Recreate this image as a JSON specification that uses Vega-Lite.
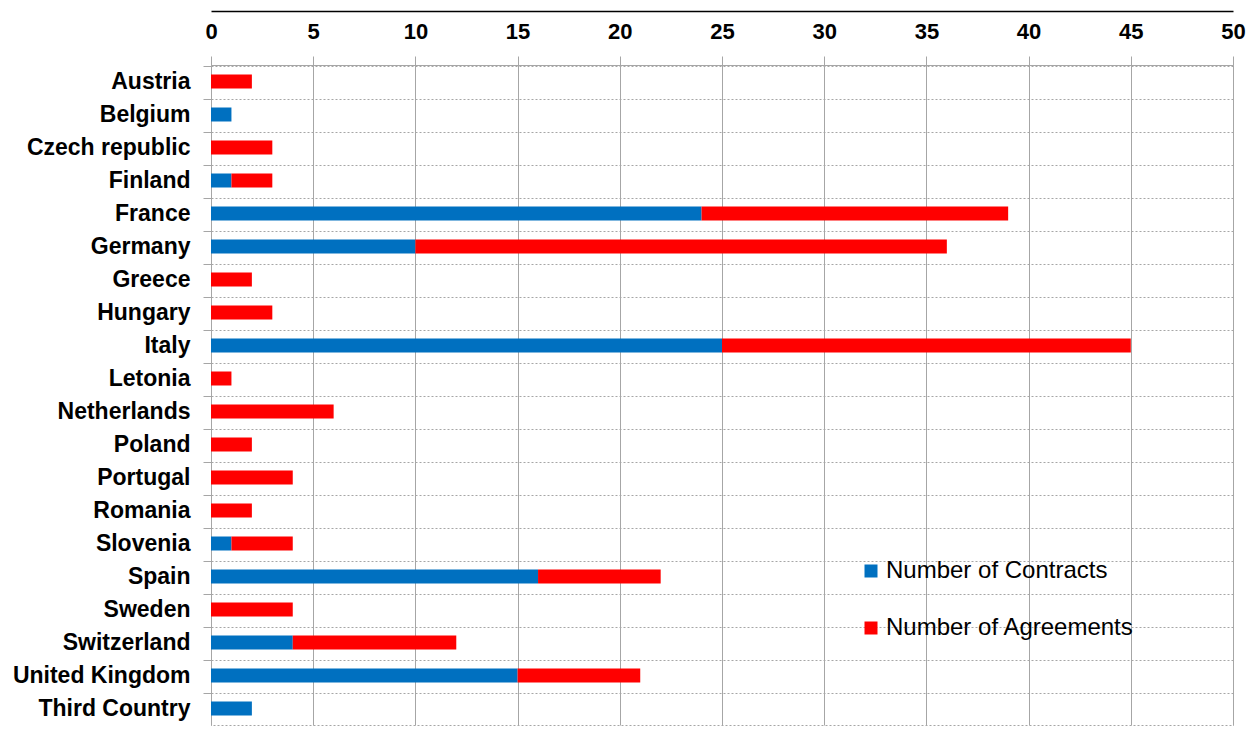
{
  "$schema": "https://vega.github.io/schema/vega-lite/v6.json",
  "autosize": "none",
  "width": 1022,
  "height": 660,
  "padding": {"left": 211, "top": 65, "right": 17, "bottom": 17},
  "background": "white",
  "config": {
    "font": "Liberation Sans",
    "view": {"stroke": "#a6a6a6", "strokeDash": [2, 2]}
  },
  "data": {
    "values": [
      {"country": "Austria", "series": "Number of Agreements", "value": 2},
      {"country": "Belgium", "series": "Number of Contracts", "value": 1},
      {"country": "Czech republic", "series": "Number of Agreements", "value": 3},
      {"country": "Finland", "series": "Number of Contracts", "value": 1},
      {"country": "Finland", "series": "Number of Agreements", "value": 2},
      {"country": "France", "series": "Number of Contracts", "value": 24},
      {"country": "France", "series": "Number of Agreements", "value": 15},
      {"country": "Germany", "series": "Number of Contracts", "value": 10},
      {"country": "Germany", "series": "Number of Agreements", "value": 26},
      {"country": "Greece", "series": "Number of Agreements", "value": 2},
      {"country": "Hungary", "series": "Number of Agreements", "value": 3},
      {"country": "Italy", "series": "Number of Contracts", "value": 25},
      {"country": "Italy", "series": "Number of Agreements", "value": 20},
      {"country": "Letonia", "series": "Number of Agreements", "value": 1},
      {"country": "Netherlands", "series": "Number of Agreements", "value": 6},
      {"country": "Poland", "series": "Number of Agreements", "value": 2},
      {"country": "Portugal", "series": "Number of Agreements", "value": 4},
      {"country": "Romania", "series": "Number of Agreements", "value": 2},
      {"country": "Slovenia", "series": "Number of Contracts", "value": 1},
      {"country": "Slovenia", "series": "Number of Agreements", "value": 3},
      {"country": "Spain", "series": "Number of Contracts", "value": 16},
      {"country": "Spain", "series": "Number of Agreements", "value": 6},
      {"country": "Sweden", "series": "Number of Agreements", "value": 4},
      {"country": "Switzerland", "series": "Number of Contracts", "value": 4},
      {"country": "Switzerland", "series": "Number of Agreements", "value": 8},
      {"country": "United Kingdom", "series": "Number of Contracts", "value": 15},
      {"country": "United Kingdom", "series": "Number of Agreements", "value": 6},
      {"country": "Third Country", "series": "Number of Contracts", "value": 2}
    ]
  },
  "encoding": {
    "y": {
      "field": "country",
      "type": "nominal",
      "sort": ["Austria", "Belgium", "Czech republic", "Finland", "France", "Germany", "Greece", "Hungary", "Italy", "Letonia", "Netherlands", "Poland", "Portugal", "Romania", "Slovenia", "Spain", "Sweden", "Switzerland", "United Kingdom", "Third Country"],
      "title": null,
      "axis": {
        "bandPosition": 0,
        "grid": true,
        "gridColor": "#a6a6a6",
        "gridDash": [2, 2],
        "gridWidth": 1,
        "domain": true,
        "domainColor": "#a6a6a6",
        "tickColor": "#a6a6a6",
        "tickSize": 8,
        "labelPadding": 13,
        "labelFontSize": 23,
        "labelFontWeight": "bold",
        "labelColor": "#000000"
      }
    }
  },
  "layer": [
    {
      "mark": {"type": "bar", "size": 14},
      "encoding": {
        "x": {
          "field": "value",
          "type": "quantitative",
          "stack": "zero",
          "scale": {"domain": [0, 50], "nice": false},
          "title": null,
          "axis": {
            "orient": "top",
            "values": [0, 5, 10, 15, 20, 25, 30, 35, 40, 45, 50],
            "grid": true,
            "gridColor": "#a6a6a6",
            "gridWidth": 1,
            "domainColor": "#a6a6a6",
            "tickColor": "#a6a6a6",
            "tickSize": 9,
            "labelPadding": 13,
            "labelFontSize": 22,
            "labelFontWeight": "bold",
            "labelColor": "#000000",
            "labelFlush": false
          }
        },
        "color": {
          "field": "series",
          "type": "nominal",
          "scale": {
            "domain": ["Number of Contracts", "Number of Agreements"],
            "range": ["#0070C0", "#FF0000"]
          },
          "legend": {
            "title": null,
            "orient": "none",
            "legendX": 648,
            "legendY": 494,
            "symbolType": "square",
            "symbolSize": 169,
            "symbolStrokeWidth": 0,
            "labelFontSize": 24,
            "labelLimit": 0,
            "labelColor": "#000000",
            "labelOffset": 3,
            "rowPadding": 33
          }
        },
        "order": {"field": "series", "sort": "descending"}
      }
    },
    {
      "mark": {"type": "bar", "size": 14, "opacity": 0},
      "encoding": {
        "x": {
          "field": "value",
          "type": "quantitative",
          "stack": "zero",
          "scale": {"domain": [0, 50], "nice": false},
          "title": null,
          "axis": {
            "orient": "top",
            "offset": 54,
            "labels": false,
            "ticks": false,
            "grid": false,
            "domain": true,
            "domainColor": "#000000",
            "domainWidth": 1.5
          }
        }
      }
    }
  ],
  "resolve": {"axis": {"x": "independent"}}
}
